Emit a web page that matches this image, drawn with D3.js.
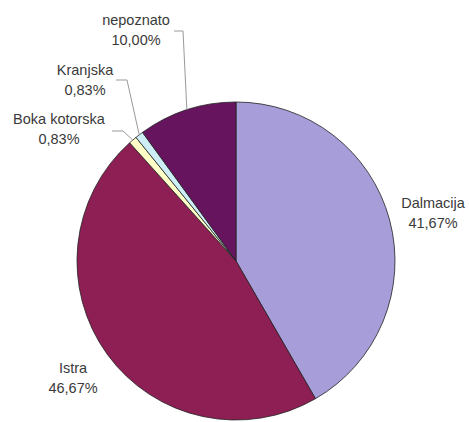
<!DOCTYPE html>
<html><head><meta charset="utf-8">
<script src="https://cdn.jsdelivr.net/npm/d3@7"></script>
<style>body{margin:0;background:#fff}svg{display:block}text{font-family:"Liberation Sans",Arial,sans-serif;font-size:14.5px;fill:#3a3a3a}</style>
</head><body>
<script>
const categories = ["Dalmacija","Istra","Boka kotorska","Kranjska","nepoznato"];
const values = [41.67,46.67,0.83,0.83,10.00];
const valueLabels = ["41,67%","46,67%","0,83%","0,83%","10,00%"];
const colors = ["#a79dd8","#8d1f55","#ffffc8","#cdeef6","#67145f"];

const W=469,H=422,cx=236,cy=261,r=159;
const svg=d3.select("body").append("svg").attr("width",W).attr("height",H);
const g=svg.append("g").attr("transform",`translate(${cx},${cy})`);
const pie=d3.pie().sort(null).value(d=>d)(values);
const arc=d3.arc().innerRadius(0).outerRadius(r);
g.selectAll("path").data(pie).join("path").attr("d",arc)
  .attr("fill",(d,i)=>colors[i]).attr("stroke","#222").attr("stroke-width",0.8);

// label positions (relative to svg): text center x, first-line baseline y
const labelPos=[[433,208],[73,373],[59,124],[85,75],[136,25]];
labelPos.forEach((p,i)=>{
  const t=svg.append("text").attr("text-anchor","middle").attr("x",p[0]).attr("y",p[1]);
  t.append("tspan").attr("x",p[0]).attr("dy",0).text(categories[i]);
  t.append("tspan").attr("x",p[0]).attr("dy",20).text(valueLabels[i]);
});
// leader lines
const ang=d=>(d.startAngle+d.endAngle)/2;
const edge=(d,k)=>[cx+Math.sin(ang(d))*r*k, cy-Math.cos(ang(d))*r*k];
const leaders=[[2,[[112,131],[123,131]]],[3,[[116,80],[127,80]]],[4,[[174,31],[183,31]]]];
leaders.forEach(([i,pts])=>{
  const e=edge(pie[i],1.0);
  svg.append("polyline").attr("points",[...pts,e].map(p=>p.join(",")).join(" "))
    .attr("fill","none").attr("stroke","#999").attr("stroke-width",1);
});
</script>
</body></html>
